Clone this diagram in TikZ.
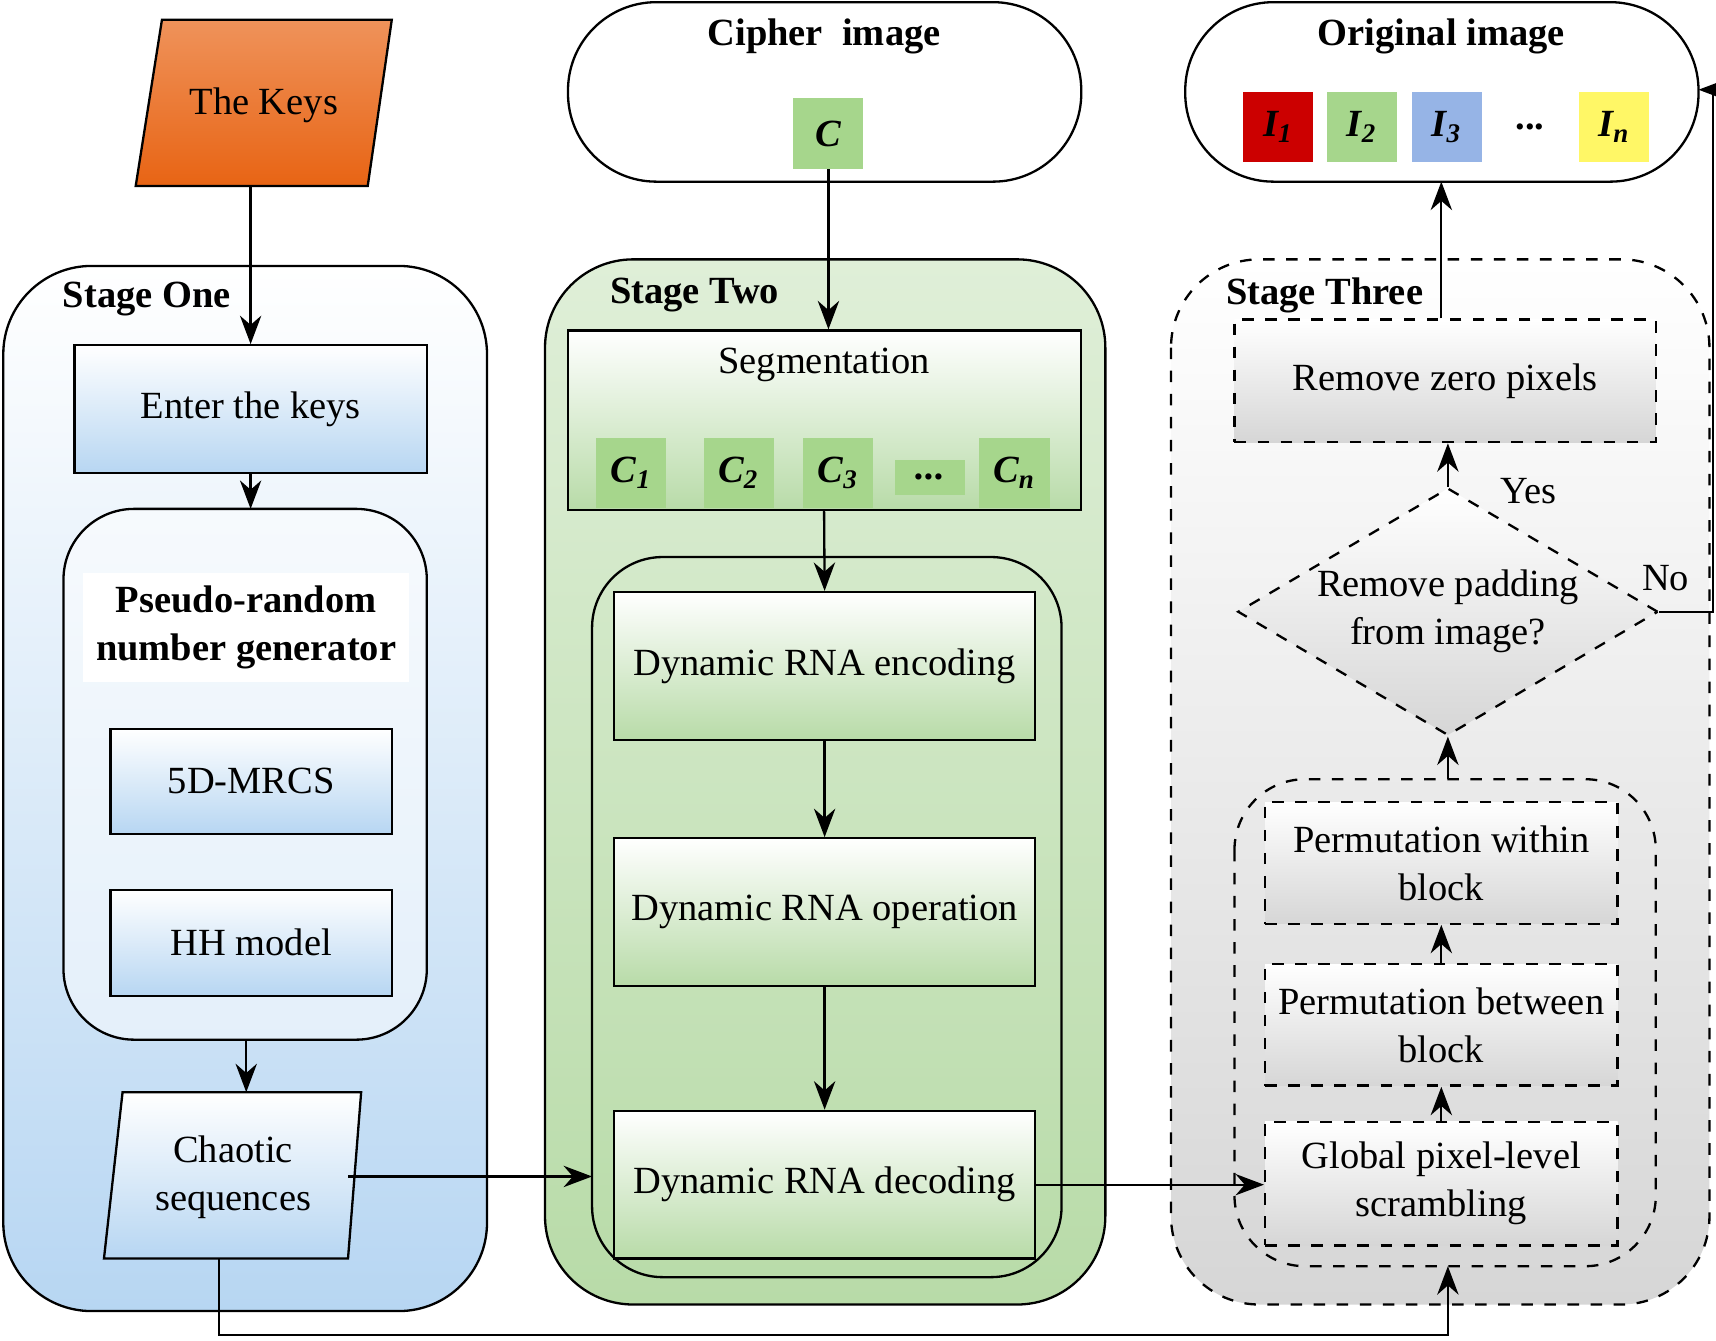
\documentclass[tikz,border=0pt]{standalone}
\usepackage{fontspec}
\setmainfont{Liberation Serif}
\usetikzlibrary{shapes.geometric,arrows.meta,calc}
\definecolor{blauhell}{RGB}{183,214,242}
\definecolor{gruenhell}{RGB}{184,219,168}
\definecolor{grauhell}{RGB}{214,214,214}
\definecolor{kaestchen}{RGB}{166,214,140}
\definecolor{orangekey}{RGB}{232,100,20}
\definecolor{blaukasten}{RGB}{150,180,230}
\tikzset{
  stage/.style={rounded corners=5ex, semithick},
  blaubox/.style={draw, semithick, top color=white, bottom color=blauhell, align=center},
  gruenbox/.style={draw, semithick, top color=white, bottom color=gruenhell, align=center},
  graubox/.style={draw, semithick, dashed, top color=white, bottom color=grauhell, align=center},
  kasten/.style={fill=kaestchen, minimum size=6.4mm, inner sep=0pt, font=\bfseries\itshape},
  pfeil/.style={-{Stealth[length=2.6mm]}, semithick},
  titel/.style={font=\fontsize{10}{12.5}\selectfont\bfseries}
}
\begin{document}
\begin{tikzpicture}[x=1cm, y=-1cm, font=\fontsize{10}{12.5}\selectfont]
\useasboundingbox (0,0) rectangle (15.68,12.25);

% stage boxes
\draw[stage, top color=white, bottom color=blauhell] (0.03,2.43) rectangle (4.45,11.98);
\node[titel, anchor=west] (s1) at (0.45,2.73) {Stage One};
\draw[stage, top color=gruenhell!45, bottom color=gruenhell] (4.98,2.37) rectangle (10.10,11.92);
\node[titel, anchor=west] (s2) at (5.45,2.70) {Stage Two};
\draw[stage, dashed, top color=white, bottom color=grauhell] (10.70,2.37) rectangle (15.62,11.92);
\node[titel, anchor=west] (s3) at (11.08,2.70) {Stage Three};

% stage one
\draw[semithick, top color=orangekey!70, bottom color=orangekey] (1.48,0.18) -- (3.58,0.18) -- (3.36,1.70) -- (1.24,1.70) -- cycle;
\node (keys) at (2.41,0.96) {The Keys};
\coordinate (keysbot) at (2.29,1.70);
\node[blaubox, minimum width=3.22cm, minimum height=1.17cm] (enter) at (2.29,3.74) {Enter the keys};
\draw[semithick, rounded corners=4ex, fill=white, fill opacity=0.5] (0.58,4.65) rectangle (3.90,9.50);
\coordinate (prngtop) at (2.29,4.65);
\coordinate (prngbot) at (2.25,9.50);
\node[titel, fill=white, align=center] (prng) at (2.25,5.73) {Pseudo-random\\number generator};
\node[blaubox, minimum width=2.57cm, minimum height=0.96cm] (mrcs) at (2.295,7.14) {5D-MRCS};
\node[blaubox, minimum width=2.57cm, minimum height=0.97cm] (hh) at (2.295,8.615) {HH model};
\draw[semithick, top color=white, bottom color=blauhell] (1.12,9.98) -- (3.30,9.98) -- (3.18,11.50) -- (0.95,11.50) -- cycle;
\node[align=center] (chaos) at (2.13,10.76) {Chaotic\\sequences};
\coordinate (chaosright) at (3.18,10.75);
\coordinate (chaostop) at (2.25,9.98);
\coordinate (chaosbot) at (2.0,11.50);

% cipher image
\draw[semithick, rounded corners=5ex] (5.19,0.02) rectangle (9.88,1.66);
\node[titel] (cipher) at (7.53,0.33) {Cipher\ \ image};
\node[kasten] (c) at (7.57,1.22) {C};

% stage two
\node[gruenbox, minimum width=4.69cm, minimum height=1.64cm] (seg) at (7.535,3.84) {};
\node (segtext) at (7.53,3.33) {Segmentation};
\node[kasten] (c1) at (5.77,4.32) {C\textsubscript{1}};
\node[kasten] (c2) at (6.75,4.32) {C\textsubscript{2}};
\node[kasten] (c3) at (7.66,4.32) {C\textsubscript{3}};
\node[kasten, minimum height=3.2mm] (cd) at (8.50,4.36) {...};
\node[kasten] (cn) at (9.27,4.32) {C\textsubscript{n}};
\draw[semithick, rounded corners=4ex] (5.41,5.09) rectangle (9.70,11.67);
\node[gruenbox, minimum width=3.85cm, minimum height=1.35cm] (enc) at (7.535,6.085) {Dynamic RNA encoding};
\node[gruenbox, minimum width=3.85cm, minimum height=1.35cm] (op) at (7.535,8.335) {Dynamic RNA operation};
\node[gruenbox, minimum width=3.85cm, minimum height=1.35cm] (dec) at (7.535,10.825) {Dynamic RNA decoding};
\coordinate (innertop) at (7.53,5.09);
\coordinate (innerleft) at (5.41,10.75);

% original image
\draw[semithick, rounded corners=5ex] (10.83,0.02) rectangle (15.52,1.66);
\node[titel] (orig) at (13.17,0.33) {Original image};
\node[kasten, fill=red!80!black] (i1) at (11.68,1.16) {I\textsubscript{1}};
\node[kasten] (i2) at (12.445,1.16) {I\textsubscript{2}};
\node[kasten, fill=blaukasten] (i3) at (13.22,1.16) {I\textsubscript{3}};
\node[font=\bfseries] (idots) at (13.98,1.16) {...};
\node[kasten, fill=yellow!60] (in) at (14.75,1.16) {I\textsubscript{n}};
\coordinate (origbot) at (13.17,1.66);
\coordinate (origright) at (15.52,0.82);

% stage three
\node[graubox, minimum width=3.85cm, minimum height=1.12cm] (zero) at (13.205,3.48) {Remove zero pixels};
\node[diamond, draw, semithick, dashed, aspect=1.7, top color=white, bottom color=grauhell, align=center,
  minimum width=3.84cm, minimum height=2.26cm, inner sep=-3pt] (pad) at (13.23,5.59) {Remove padding\\from image?};
\draw[semithick, dashed, rounded corners=4ex] (11.28,7.12) rectangle (15.13,11.57);
\coordinate (innertop3) at (13.23,7.12);
\coordinate (innerbot3) at (13.23,11.57);
\node[graubox, minimum width=3.22cm, minimum height=1.11cm] (within) at (13.17,7.885) {Permutation within\\block};
\node[graubox, minimum width=3.22cm, minimum height=1.11cm] (between) at (13.17,9.365) {Permutation between\\block};
\node[graubox, minimum width=3.22cm, minimum height=1.13cm] (global) at (13.17,10.815) {Global pixel-level\\scrambling};
\node (yes) at (13.97,4.49) {Yes};
\node (no) at (15.22,5.28) {No};

% connectors
\draw[pfeil] (keysbot) -- (enter.north);
\draw[pfeil] (enter) -- (prngtop);
\draw[pfeil] (prngbot) -- (chaostop);
\draw[pfeil] (chaosright) -- (innerleft);
\draw[pfeil] (chaosbot) -- (2.0,12.2) -| (innerbot3);
\draw[pfeil] (c) -- (c |- seg.north);
\draw[pfeil] (seg.south -| innertop) -- (enc.north);
\draw[pfeil] (enc) -- (op);
\draw[pfeil] (op) -- (dec);
\draw[pfeil] (dec.east) -- (global.west |- dec.east);
\draw[pfeil] (global) -- (between);
\draw[pfeil] (between) -- (within);
\draw[pfeil] (innertop3) -- (pad.south);
\draw[pfeil] (pad.north) -- (pad.north |- zero.south);
\draw[pfeil] (zero.north -| origbot) -- (origbot);
\draw[pfeil] (pad.east) -- (15.65,5.59) |- (origright);
\end{tikzpicture}
\end{document}
